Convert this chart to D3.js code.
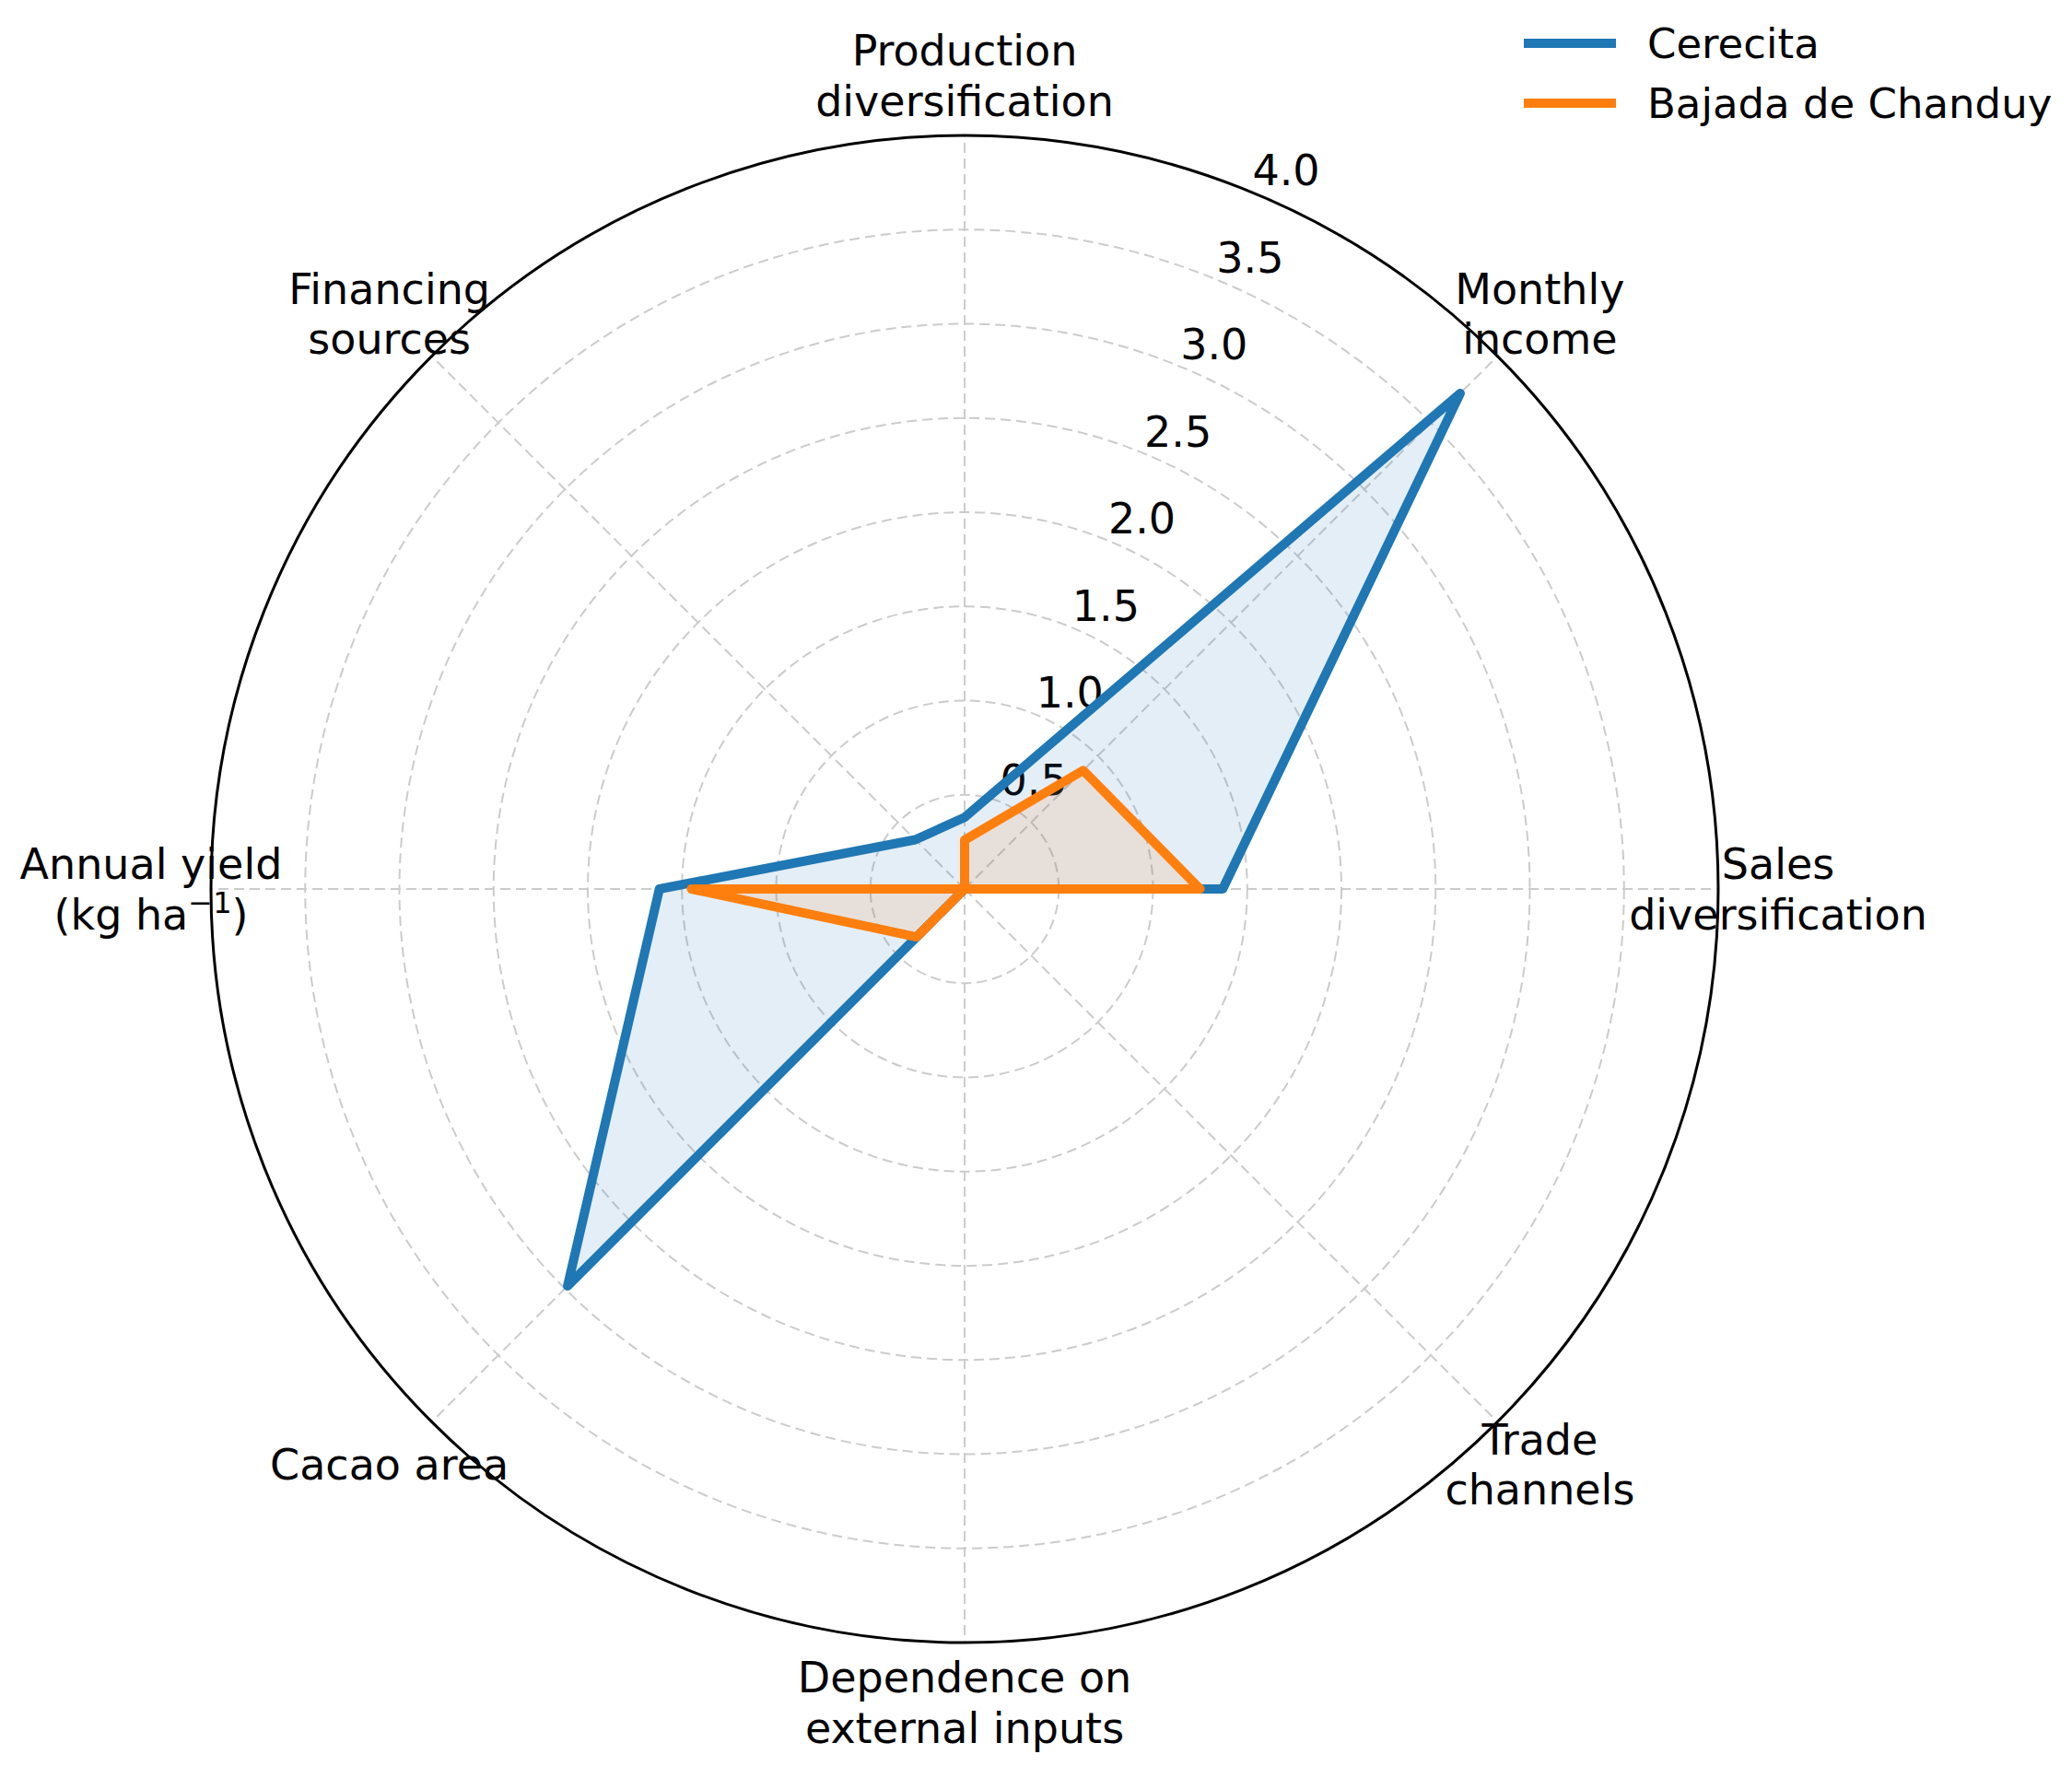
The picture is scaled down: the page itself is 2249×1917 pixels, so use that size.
<!DOCTYPE html>
<html lang="en">
<head>
    <meta charset="UTF-8">
    <title>Radar - Cerecita vs Bajada de Chanduy</title>
    <script src="https://d3js.org/d3.v7.min.js"></script>
    <style>
        body { margin: 0; background: #fff; }
        svg text { font-family: "DejaVu Sans", sans-serif; fill: #000; }
        .grid { fill: none; stroke: #cccccc; stroke-width: 2; stroke-dasharray: 11 6; }
    </style>
</head>
<body>
<svg width="2249" height="1917"></svg>
<script>
    // Axis categories, clockwise from the top ("|" marks a superscript part)
    const categories = [
        ["Production", "diversification"],
        ["Monthly", "income"],
        ["Sales", "diversification"],
        ["Trade", "channels"],
        ["Dependence on", "external inputs"],
        ["Cacao area"],
        ["Annual yield", "(kg ha|−1|)"],
        ["Financing", "sources"]
    ];

    // Series values
    const cerecita = [0.38, 3.72, 1.37, 0, 0, 2.98, 1.62, 0.37];
    const bajada = [0.26, 0.89, 1.25, 0, 0, 0.36, 1.45, 0];

    const seriesNames = ["Cerecita", "Bajada de Chanduy"];
    const seriesColors = ["#1f77b4", "#ff7f0e"];

    // Radial ticks
    const rTicks = [0.5, 1.0, 1.5, 2.0, 2.5, 3.0, 3.5, 4.0];

    const svg = d3.select("svg");
    const cx = 1047, cy = 965, R = 818;
    const g = svg.append("g").attr("transform", `translate(${cx},${cy})`);

    const r = d3.scaleLinear().domain([0, 4]).range([0, R]);
    const angle = d3.scaleLinear().domain([0, categories.length]).range([0, 2 * Math.PI]);

    // dashed circular grid
    g.selectAll(".ring")
        .data(rTicks.slice(0, -1))
        .enter()
        .append("circle")
        .attr("class", "grid")
        .attr("r", d => r(d));

    // dashed spokes
    g.selectAll(".spoke")
        .data(categories)
        .enter()
        .append("line")
        .attr("class", "grid")
        .attr("x1", 0).attr("y1", 0)
        .attr("x2", (d, i) => r(4) * Math.sin(angle(i)))
        .attr("y2", (d, i) => -r(4) * Math.cos(angle(i)));

    // radial tick labels along 22.5 deg
    const labAng = Math.PI / 8;
    g.selectAll(".rlabel")
        .data(rTicks)
        .enter()
        .append("text")
        .attr("x", d => r(d) * Math.sin(labAng) + 36)
        .attr("y", d => -r(d) * Math.cos(labAng) - 24)
        .attr("text-anchor", "middle")
        .attr("dominant-baseline", "central")
        .style("font-size", "46px")
        .text(d => d.toFixed(1));

    // series polygons
    const radar = d3.lineRadial()
        .angle((d, i) => angle(i))
        .radius(d => r(d))
        .curve(d3.curveLinearClosed);

    [cerecita, bajada].forEach((vals, k) => {
        g.append("path")
            .attr("d", radar(vals))
            .attr("fill", seriesColors[k])
            .attr("fill-opacity", 0.12)
            .attr("stroke", "none");
    });
    [cerecita, bajada].forEach((vals, k) => {
        g.append("path")
            .attr("d", radar(vals))
            .attr("fill", "none")
            .attr("stroke", seriesColors[k])
            .attr("stroke-width", 10)
            .attr("stroke-linejoin", "round")
            .attr("stroke-linecap", "round");
    });

    // outer spine
    g.append("circle")
        .attr("r", r(4))
        .attr("fill", "none")
        .attr("stroke", "#000")
        .attr("stroke-width", 3);

    // category labels, one text per line, baseline computed by hand
    const labR = R + 65, lineH = 54.6, capHalf = 16.5;
    categories.forEach((lines, i) => {
        const x = labR * Math.sin(angle(i));
        const y = -labR * Math.cos(angle(i));
        lines.forEach((ln, j) => {
            const yy = y + (j - (lines.length - 1) / 2) * lineH + capHalf;
            const parts = ln.split("|");
            const t = g.append("text")
                .attr("x", x)
                .attr("y", yy)
                .attr("text-anchor", "middle")
                .style("font-size", "46px");
            t.append("tspan").text(parts[0]);
            if (parts.length > 1) {
                t.append("tspan")
                    .attr("dy", -18)
                    .style("font-size", "32px")
                    .text(parts[1]);
                t.append("tspan")
                    .attr("dy", 18)
                    .text(parts[2]);
            }
        });
    });

    // legend, no frame
    const legend = svg.append("g");
    seriesNames.forEach((name, k) => {
        const ly = 47 + k * 65;
        legend.append("line")
            .attr("x1", 1654).attr("x2", 1754)
            .attr("y1", ly).attr("y2", ly)
            .attr("stroke", seriesColors[k])
            .attr("stroke-width", 10);
        legend.append("text")
            .attr("x", 1788)
            .attr("y", ly)
            .attr("dominant-baseline", "central")
            .style("font-size", "45px")
            .text(name);
    });
</script>
</body>
</html>
